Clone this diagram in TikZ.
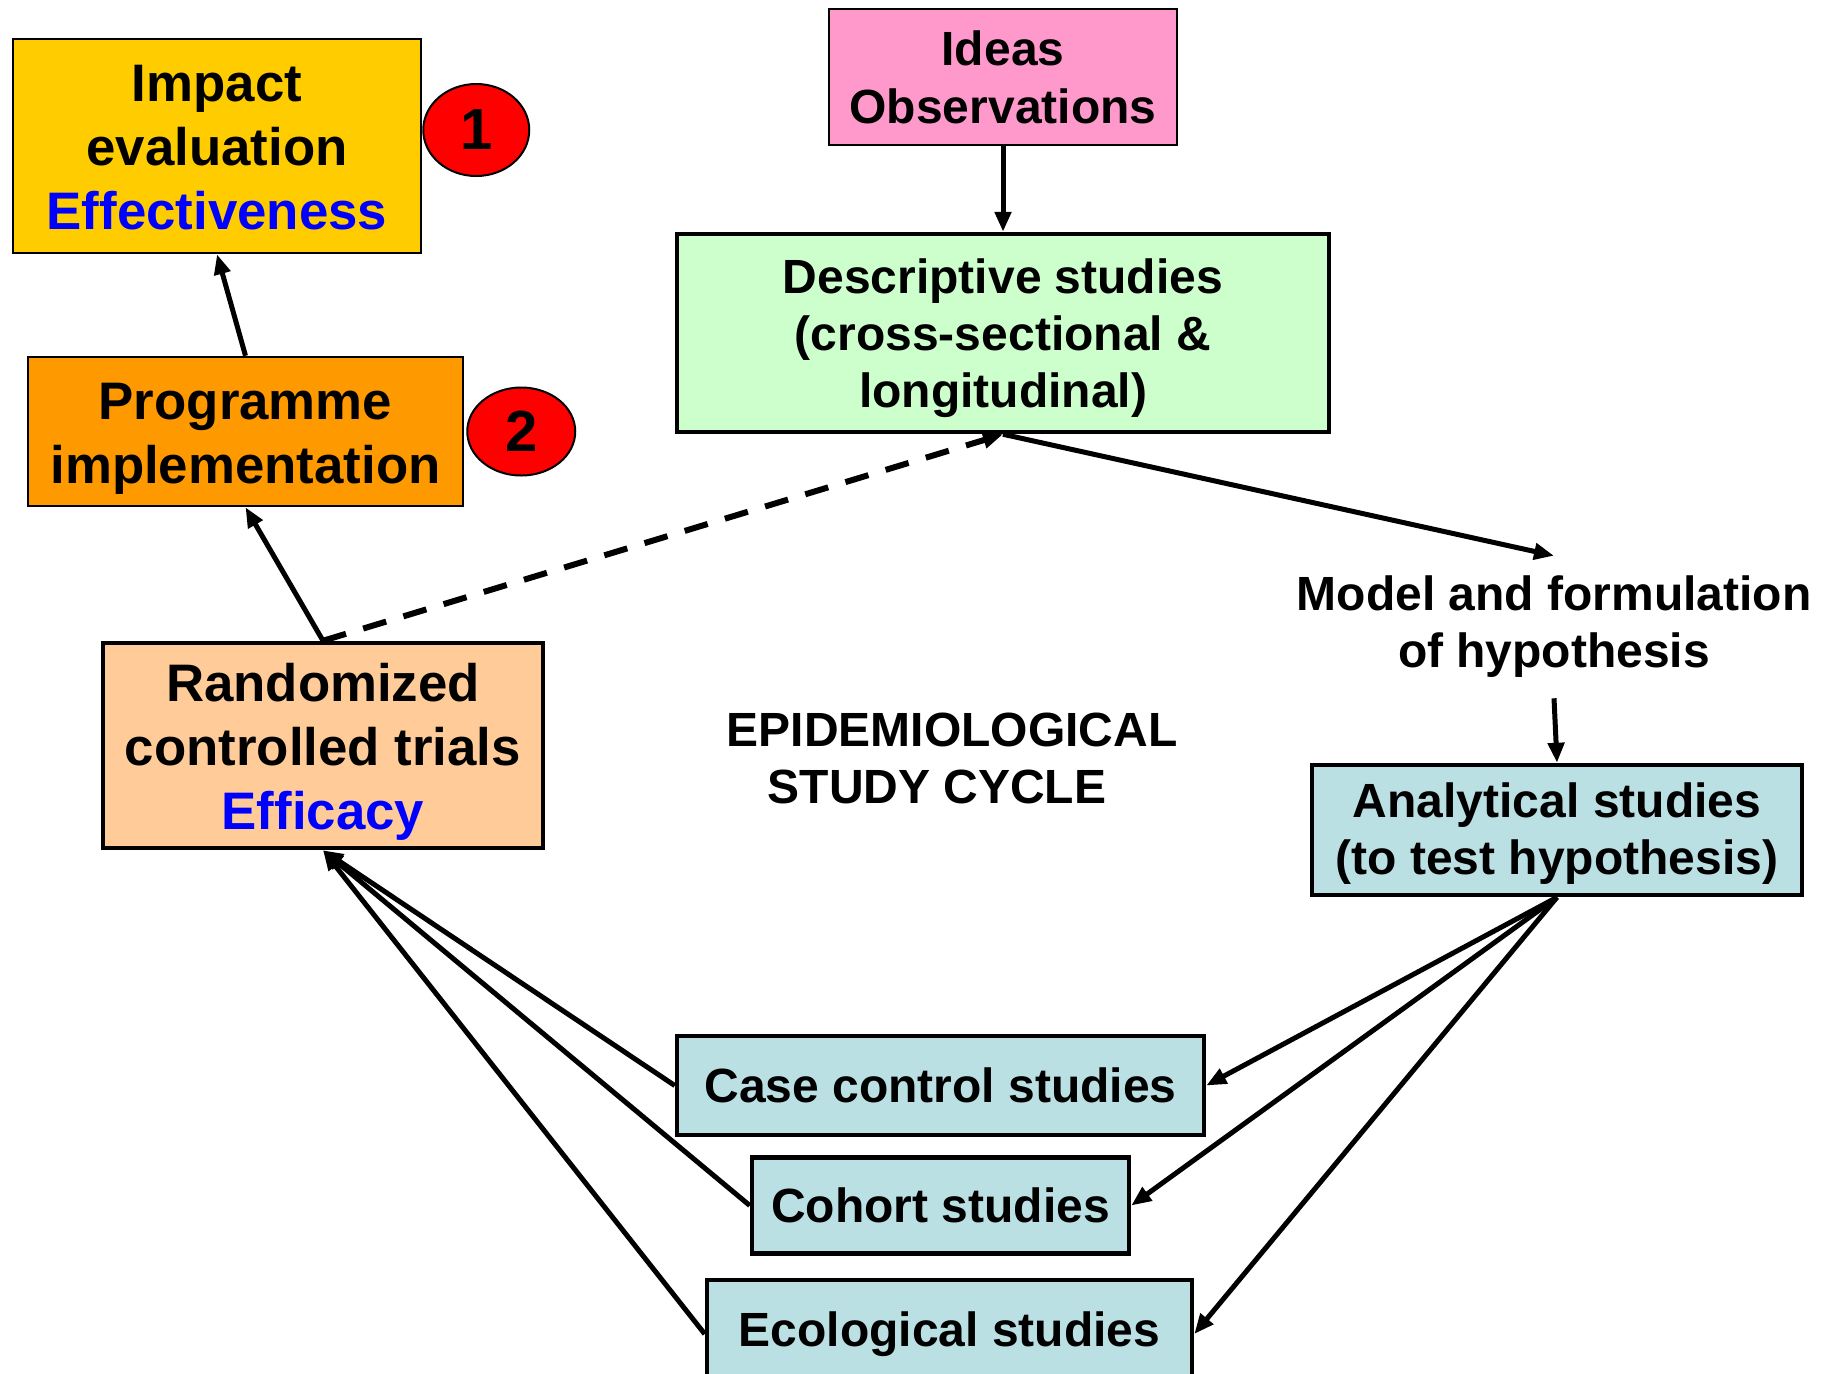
\documentclass[tikz,border=0pt]{standalone}
\usepackage{fontspec}
\setmainfont{Liberation Sans}
\usetikzlibrary{positioning,shapes.geometric,arrows.meta}
\definecolor{Gold}{HTML}{FFCC00}
\definecolor{Amber}{HTML}{FF9900}
\definecolor{Peach}{HTML}{FFCC99}
\definecolor{Pink}{HTML}{FF99CC}
\definecolor{Mint}{HTML}{CCFFCC}
\definecolor{Teal}{HTML}{BBE0E3}
\definecolor{Ink}{HTML}{0000FF}
% invisible strut on a first line, pushes the text block down a little
\newcommand{\dropby}[1]{\rule{0pt}{#1}}

\begin{document}
\begin{tikzpicture}[x=0.5pt, y=-0.5pt,
    block/.style={rectangle, draw, line width=2.25pt, text=black, align=center, inner sep=0pt, font=\bfseries\fontsize{24}{28.5}\selectfont},
    big/.style={font=\bfseries\fontsize{26.4}{32}\selectfont},
    badge/.style={ellipse, draw, line width=1pt, fill=red, inner sep=0pt, minimum width=53pt, minimum height=46pt, font=\bfseries\fontsize{29}{32}\selectfont},
    note/.style={align=center, inner sep=10pt, font=\bfseries\fontsize{24}{28.5}\selectfont},
    arrow/.style={-{Triangle[length=10pt,width=8pt]}, line width=2.5pt}
]
\fill[white] (0,0) rectangle (1834,1373);
\useasboundingbox (0,0) rectangle (1834,1373);

% left column
\node[block, big, fill=Gold, line width=1.25pt, minimum width=204pt, minimum height=107pt] (impact) at (217,146) {\dropby{20.1pt}Impact\\evaluation\\\textcolor{Ink}{Effectiveness}};
\node[badge, right=0pt of impact.east, yshift=8pt] (one) {1};
\node[block, big, fill=Amber, line width=1.25pt, minimum width=217.5pt, minimum height=74.5pt] (prog) at (245.5,431.5) {\dropby{25.9pt}Programme\\implementation};
\node[badge, right=1pt of prog.east, minimum width=54pt, minimum height=44pt] (two) {2};
\node[block, big, fill=Peach, minimum width=220pt, minimum height=102.5pt] (rct) at (323,745.5) {\dropby{25.9pt}Randomized\\controlled trials\\\textcolor{Ink}{Efficacy}};

% top and right
\node[block, fill=Pink, line width=0.75pt, minimum width=174pt, minimum height=68pt, font=\bfseries\fontsize{24}{29.2}\selectfont] (ideas) at (1003,77) {\dropby{18pt}Ideas\\Observations};
\node[block, fill=Mint, minimum width=326pt, minimum height=99pt] (desc) at (1003,333) {\dropby{23pt}Descriptive studies\\(cross-sectional \&\\longitudinal)};
\node[note] (model) at (1554,627) {Model and formulation\\of hypothesis};
\node[block, fill=Teal, minimum width=245pt, minimum height=65pt] (analyt) at (1557,830) {\dropby{20.7pt}Analytical studies\\(to test hypothesis)};
\node[note, inner sep=0pt] (cycle) at (952,758) {EPIDEMIOLOGICAL\\STUDY CYCLE\hspace*{15pt}};

% bottom
\node[block, fill=Teal, minimum width=263.5pt, minimum height=49.5pt] (case) at (940.5,1085.5) {Case control studies};
\node[block, fill=Teal, below=9pt of case, minimum width=188.5pt, minimum height=48pt] (cohort) {Cohort studies};
\node[block, fill=Teal, below=11pt of cohort, xshift=4.5pt, minimum width=242.5pt, minimum height=54pt] (eco) {Ecological studies};

\draw[arrow] (ideas) -- (desc);
\draw[arrow] (desc.south) -- (model.north);
\draw[arrow] (model.south) -- (analyt.north);
\draw[arrow] (analyt.south) -- (case.east);
\draw[arrow] (analyt.south) -- (cohort.east);
\draw[arrow] (analyt.south) -- (eco.east);
\draw[arrow] (case.west) -- (rct.south);
\draw[arrow] (cohort.west) -- (rct.south);
\draw[arrow] (eco.west) -- (rct.south);
\draw[arrow] (rct.north) -- (prog.south);
\draw[arrow] (prog.north) -- (impact.south);
\draw[arrow, line width=3pt, dash pattern=on 12pt off 9pt] (rct.north) -- (desc.south);
\end{tikzpicture}
\end{document}
